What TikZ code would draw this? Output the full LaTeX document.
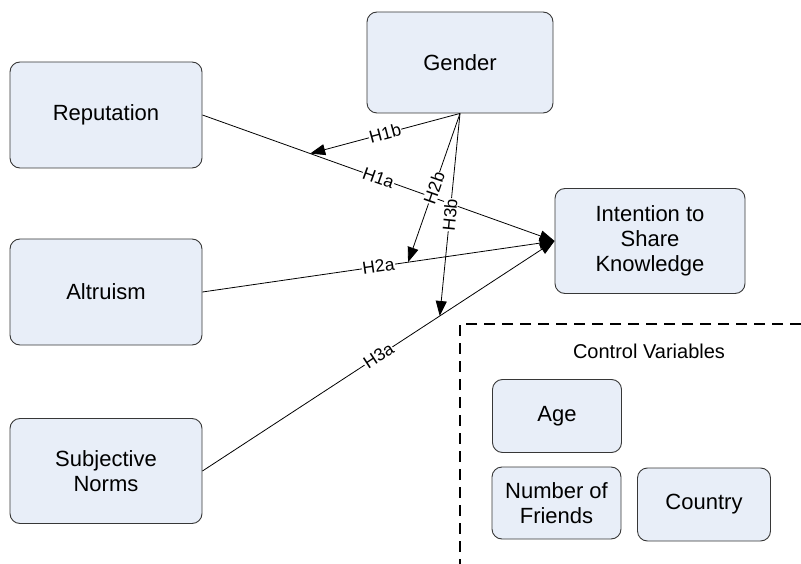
\documentclass[tikz,border=0pt]{standalone}
\usepackage{fontspec}
\setmainfont{Liberation Sans}
\usetikzlibrary{arrows.meta,calc}
\definecolor{boxfill}{RGB}{232,238,248}
\definecolor{boxdraw}{RGB}{55,55,55}
\begin{document}
\begin{tikzpicture}[x=1pt,y=-1pt,
  var/.style={draw=boxdraw, fill=boxfill, rounded corners=10pt, line width=0.9pt,
    align=center, font=\fontsize{22}{25}\selectfont, inner sep=0pt},
  conn/.style={line width=0.8pt, -{Triangle[length=15pt,width=11pt]}},
  lab/.style={midway, sloped, fill=white, inner sep=0.5pt, font=\fontsize{17.5}{18}\selectfont},
  dashline/.style={line width=1.5pt, dash pattern=on 11pt off 7pt}]
\useasboundingbox (0,0) rectangle (801,564);

\node[var, minimum width=192pt, minimum height=106pt] (rep) at (106,115) {Reputation};
\node[var, minimum width=192pt, minimum height=106pt] (alt) at (106,292) {Altruism};
\node[var, minimum width=192pt, minimum height=105pt] (sn) at (106,471) {Subjective\\Norms};
\node[var, minimum width=186pt, minimum height=101pt] (gen) at (460,62.5) {Gender};
\node[var, minimum width=190pt, minimum height=105pt] (int) at (650,241) {Intention to\\Share\\Knowledge};

\node[font=\fontsize{20}{22}\selectfont] (cv) at (649,351) {Control Variables};
\node[var, minimum width=129pt, minimum height=73pt] (age) at (557,416) {Age};
\node[var, minimum width=129pt, minimum height=72pt] (nof) at (556.5,503) {Number of\\Friends};
\node[var, minimum width=133pt, minimum height=73pt] (cty) at (704,504.5) {Country};

\draw[dashline] (801,324) -- (460,324) -- (460,564);

\draw[conn] (rep.east) -- node[lab] {H1a} (int.west);
\draw[conn] (alt.east) -- node[lab] {H2a} (int.west);
\draw[conn] (sn.east) -- node[lab] {H3a} (int.west);

\coordinate (p1) at ($(rep.east)!0.306!(int.west)$);
\coordinate (p2) at ($(alt.east)!0.584!(int.west)$);
\coordinate (p3) at ($(sn.east)!0.674!(int.west)$);

\draw[conn] (gen.south) -- node[lab] {H1b} (p1);
\draw[conn] (gen.south) -- node[lab] {H2b} (p2);
\draw[conn] (gen.south) -- node[lab] {H3b} (p3);
\end{tikzpicture}
\end{document}
